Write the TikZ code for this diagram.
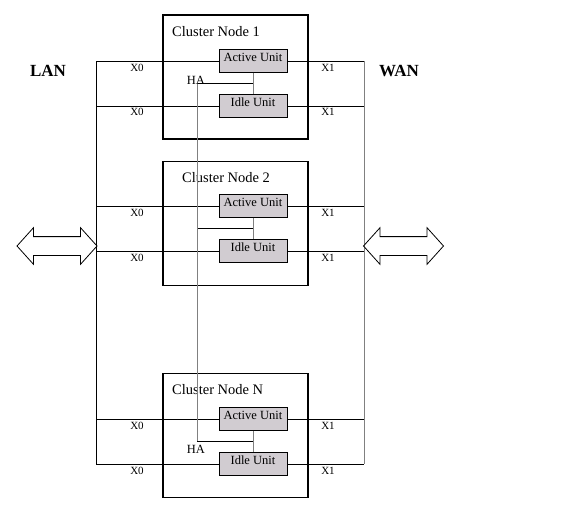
\documentclass[tikz,border=0pt]{standalone}
\usepackage{fontspec}
\setmainfont{Liberation Serif}
\usepackage{tikz}
\usetikzlibrary{%
  positioning
 ,shapes.arrows
}
\definecolor{unitfill}{RGB}{209,204,209}
\definecolor{hagray}{RGB}{128,128,128}
\tikzstyle{clu}=[draw=black,line width=1.6pt,minimum width=145pt,minimum height=124pt,inner sep=0pt]
\tikzstyle{unit}=[draw=black,fill=unitfill,minimum width=68pt,minimum height=23pt,inner sep=0pt,text height=6pt,text depth=6pt,font=\fontsize{12.5}{12}\selectfont]
\tikzstyle{ttl}=[anchor=base west,inner sep=0pt,font=\fontsize{14.5}{15}\selectfont]
\tikzstyle{port}=[anchor=base,inner sep=0pt,font=\fontsize{11}{11}\selectfont]
\tikzstyle{side}=[anchor=base,inner sep=0pt,font=\fontsize{17}{17}\selectfont\bfseries]
\tikzstyle{ha}=[draw=hagray,line width=0.8pt]
\tikzstyle{bus}=[draw=black,line width=0.8pt]
\tikzstyle{darr}=[double arrow,draw=black,line width=0.8pt,minimum height=80pt,inner xsep=0pt,inner ysep=9pt,double arrow head extend=9pt,double arrow tip angle=96]

\begin{document}
\begin{tikzpicture}[x=1pt,y=-1pt]
  \useasboundingbox (0,0) rectangle (576,520);
% cluster boxes
  \node[clu]  (c_1) at (235.5,77)    {};
  \node[clu]  (c_2) at (235.5,223.5) {};
  \node[clu]  (c_N) at (235.5,435.5) {};
  \node[ttl]  (t_1) at (172,36)  {Cluster Node 1};
  \node[ttl]  (t_2) at (182,182) {Cluster Node 2};
  \node[ttl]  (t_N) at (172,394) {Cluster Node N};
% units
  \node[unit] (a_1) at (253,61)  {Active Unit};
  \node[unit] (i_1) at (253,106) {Idle Unit};
  \node[unit] (a_2) at (253,206) {Active Unit};
  \node[unit] (i_2) at (253,251) {Idle Unit};
  \node[unit] (a_N) at (253,419) {Active Unit};
  \node[unit] (i_N) at (253,464) {Idle Unit};
% bus ends
  \coordinate (L_1a) at (96,61);  \coordinate (R_1a) at (364,61);
  \coordinate (L_1b) at (96,106); \coordinate (R_1b) at (364,106);
  \coordinate (L_2a) at (96,206); \coordinate (R_2a) at (364,206);
  \coordinate (L_2b) at (96,251); \coordinate (R_2b) at (364,251);
  \coordinate (L_Na) at (96,419); \coordinate (R_Na) at (364,419);
  \coordinate (L_Nb) at (96,464); \coordinate (R_Nb) at (364,464);
  \coordinate (h_1)  at (197,83);
  \coordinate (h_2)  at (197,228);
  \coordinate (h_N)  at (197,441);
%
  \path[bus]
  (L_1a) edge (a_1)  (a_1) edge (R_1a)
  (L_1b) edge (i_1)  (i_1) edge (R_1b)
  (L_2a) edge (a_2)  (a_2) edge (R_2a)
  (L_2b) edge (i_2)  (i_2) edge (R_2b)
  (L_Na) edge (a_N)  (a_N) edge (R_Na)
  (L_Nb) edge (i_N)  (i_N) edge (R_Nb)
  (L_1a) edge (L_Nb)
  (h_1) edge (h_1 -| a_1)
  (h_2) edge (h_2 -| a_2)
  (h_N) edge (h_N -| a_N);
  \path[ha]
  (R_1a) edge (R_Nb)
  (h_1) edge (h_N)
  (a_1) edge (i_1)
  (a_2) edge (i_2)
  (a_N) edge (i_N);
% labels
  \node[port] (x0_1a) at (137,71)  {X0}; \node[port] (x1_1a) at (328,71)  {X1};
  \node[port] (x0_1b) at (137,115) {X0}; \node[port] (x1_1b) at (328,115) {X1};
  \node[port] (x0_2a) at (137,216) {X0}; \node[port] (x1_2a) at (328,216) {X1};
  \node[port] (x0_2b) at (137,261) {X0}; \node[port] (x1_2b) at (328,261) {X1};
  \node[port] (x0_Na) at (137,429) {X0}; \node[port] (x1_Na) at (328,429) {X1};
  \node[port] (x0_Nb) at (137,474) {X0}; \node[port] (x1_Nb) at (328,474) {X1};
  \node[port,font=\fontsize{12.5}{12}\selectfont] (ha_1) at (196,84)  {HA};
  \node[port,font=\fontsize{12.5}{12}\selectfont] (ha_N) at (196,453) {HA};
  \node[side] (lan) at (48,76)  {LAN};
  \node[side] (wan) at (399,76) {WAN};
% arrows
  \node[darr] (lanarr) at (57,246)    {};
  \node[darr] (wanarr) at (403.5,246) {};
\end{tikzpicture}
\end{document}
